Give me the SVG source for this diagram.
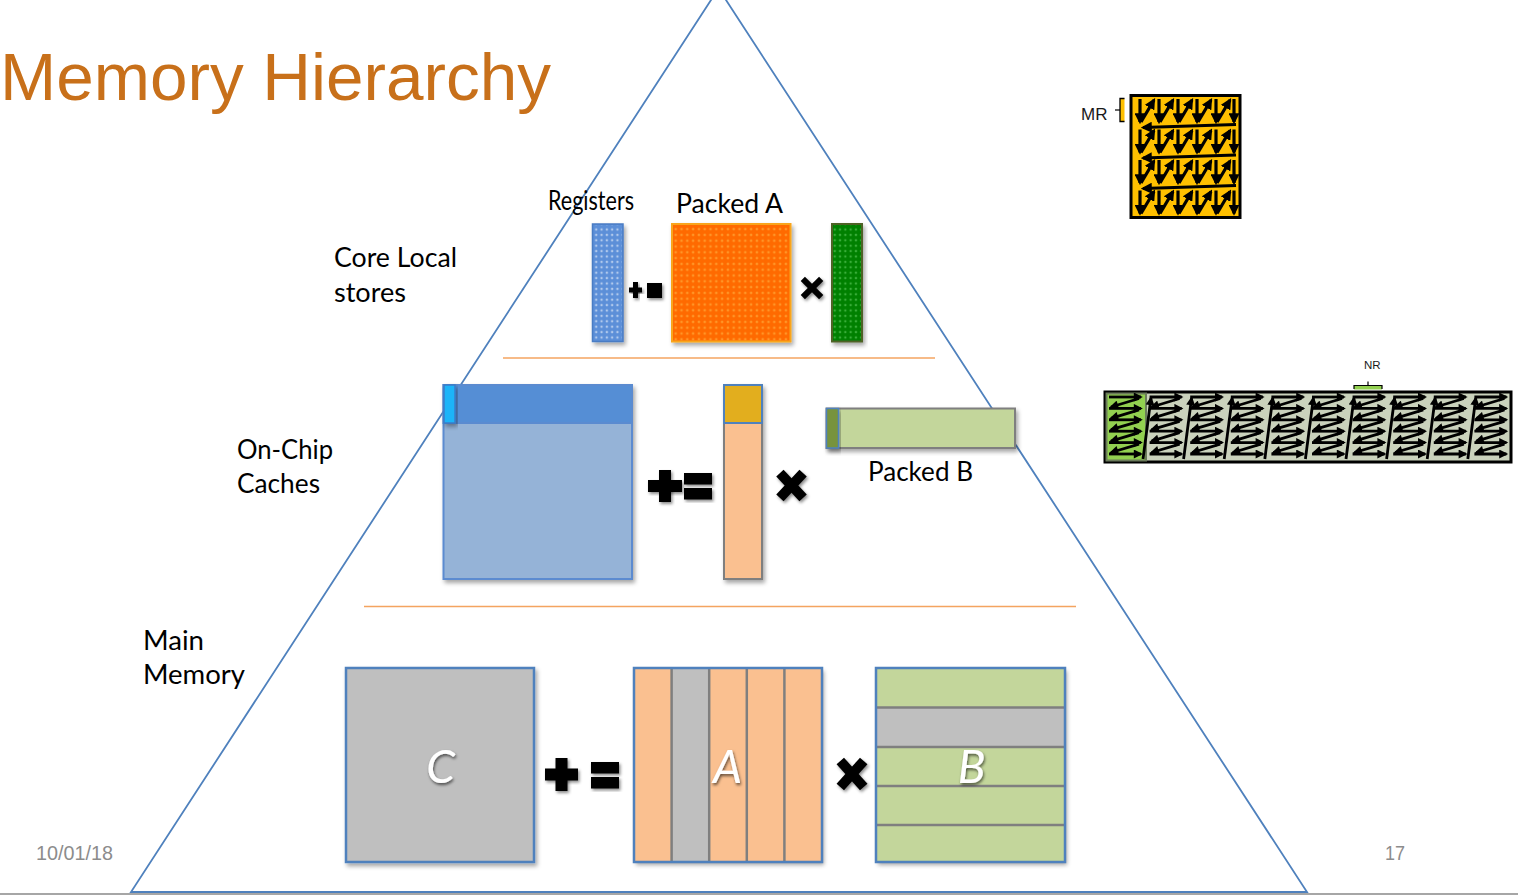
<svg xmlns="http://www.w3.org/2000/svg" xmlns:xlink="http://www.w3.org/1999/xlink" width="1518" height="895" viewBox="0 0 1518 895">
<style>
.lbl{font-family:Lato,"Open Sans","Noto Sans",sans-serif;font-size:26px;fill:#000}
.arial{font-family:"Liberation Sans",Arial,sans-serif}
.big{font-family:Lato,"Open Sans",sans-serif;font-style:italic;font-size:46px;fill:#fff;text-anchor:middle}
.sym{fill:#000;filter:url(#shs)}
.ar{stroke:#000;stroke-width:3.2;fill:none;marker-end:url(#ah)}
.arn{stroke:#000;stroke-width:2.8;fill:none;marker-end:url(#ahn)}
.bb{stroke:#4F81BD;stroke-width:2.5}
.gd{stroke:#7F7F7F;stroke-width:2.5}
</style>
<defs>
<filter id="sh" x="-10%" y="-10%" width="130%" height="130%"><feDropShadow dx="2" dy="3" stdDeviation="2" flood-color="#000" flood-opacity="0.35"/></filter>
<filter id="shs" x="-30%" y="-30%" width="160%" height="160%"><feDropShadow dx="1.5" dy="2" stdDeviation="1.5" flood-color="#000" flood-opacity="0.45"/></filter>
<filter id="sht" x="-30%" y="-30%" width="160%" height="160%"><feDropShadow dx="1" dy="2" stdDeviation="1.5" flood-color="#000" flood-opacity="0.6"/></filter>
<marker id="ah" viewBox="0 0 10 10" refX="8" refY="5" markerUnits="userSpaceOnUse" markerWidth="11" markerHeight="11" orient="auto"><path d="M0,0 L10,5 L0,10 z" fill="#000"/></marker>
<marker id="ahn" viewBox="0 0 10 10" refX="8" refY="5" markerUnits="userSpaceOnUse" markerWidth="10" markerHeight="9" orient="auto"><path d="M0,0 L10,5 L0,10 z" fill="#000"/></marker>
<pattern id="pW" width="5.3" height="5.4" patternUnits="userSpaceOnUse"><path d="M2.65,1.5 v2.4 M1.45,2.7 h2.4" stroke="#fff" stroke-width="0.8" opacity="0.75"/></pattern>
<pattern id="pO" width="5.8" height="5.8" patternUnits="userSpaceOnUse"><path d="M2.9,1.6 v2.6 M1.6,2.9 h2.6" stroke="#FFB040" stroke-width="0.9" opacity="0.85"/></pattern>
<pattern id="pG" width="5.3" height="5.4" patternUnits="userSpaceOnUse"><path d="M2.65,1.5 v2.4 M1.45,2.7 h2.4" stroke="#66D066" stroke-width="0.8" opacity="0.8"/></pattern>
<g id="mrRow">
<line class="ar" x1="1140" y1="99" x2="1140" y2="122"/>
<line class="ar" x1="1141" y1="122" x2="1154" y2="100"/>
<line class="ar" x1="1159" y1="99" x2="1159" y2="122"/>
<line class="ar" x1="1160" y1="122" x2="1173" y2="100"/>
<line class="ar" x1="1178" y1="99" x2="1178" y2="122"/>
<line class="ar" x1="1179" y1="122" x2="1192" y2="100"/>
<line class="ar" x1="1197" y1="99" x2="1197" y2="122"/>
<line class="ar" x1="1198" y1="122" x2="1211" y2="100"/>
<line class="ar" x1="1216" y1="99" x2="1216" y2="122"/>
<line class="ar" x1="1217" y1="122" x2="1230" y2="100"/>
<line class="ar" x1="1234" y1="99" x2="1234" y2="122"/>
</g>
<line id="mrRet" class="ar" x1="1236" y1="124.5" x2="1143" y2="127.5"/>
<g id="nrCol">
<line class="arn" x1="1109" y1="397" x2="1141" y2="397"/>
<line class="arn" x1="1139" y1="398.5" x2="1111" y2="407"/>
<line class="arn" x1="1109" y1="408.4" x2="1141" y2="408.4"/>
<line class="arn" x1="1139" y1="409.9" x2="1111" y2="418.3"/>
<line class="arn" x1="1109" y1="419.8" x2="1141" y2="419.8"/>
<line class="arn" x1="1139" y1="421.3" x2="1111" y2="429.7"/>
<line class="arn" x1="1109" y1="431.2" x2="1141" y2="431.2"/>
<line class="arn" x1="1139" y1="432.7" x2="1111" y2="441.1"/>
<line class="arn" x1="1109" y1="442.6" x2="1141" y2="442.6"/>
<line class="arn" x1="1139" y1="444.1" x2="1111" y2="452.5"/>
<line class="arn" x1="1109" y1="454" x2="1141" y2="454"/>
</g>
<line id="nrUp" class="arn" x1="1143" y1="459" x2="1151" y2="398"/>
</defs>

<rect x="0" y="0" width="1518" height="895" fill="#fff"/>

<g id="structure">
<polygon points="718.5,-11.5 131,892 1307,892" fill="none" stroke="#4F81BD" stroke-width="1.8"/>
<line x1="503" y1="358" x2="935" y2="358" stroke="#F4A460" stroke-width="1.5"/>
<line x1="364" y1="606.5" x2="1076" y2="606.5" stroke="#F4A460" stroke-width="1.5"/>
<rect x="0" y="893" width="1518" height="2" fill="#A6A6A6"/>
</g>

<g id="title"><text x="0" y="100" class="arial" font-size="67" fill="#C8701A" textLength="551" lengthAdjust="spacingAndGlyphs">Memory Hierarchy</text></g>

<g id="labels">
<text class="lbl" x="334" y="267" textLength="123" lengthAdjust="spacingAndGlyphs">Core Local</text>
<text class="lbl" x="334" y="302" textLength="72" lengthAdjust="spacingAndGlyphs">stores</text>
<text class="lbl" x="237" y="459" textLength="96" lengthAdjust="spacingAndGlyphs">On-Chip</text>
<text class="lbl" x="237" y="493" textLength="83" lengthAdjust="spacingAndGlyphs">Caches</text>
<text class="lbl" x="143" y="650" textLength="61" lengthAdjust="spacingAndGlyphs">Main</text>
<text class="lbl" x="143" y="684" textLength="102" lengthAdjust="spacingAndGlyphs">Memory</text>
<text class="arial" x="36" y="860" font-size="20" fill="#8C8C8C" textLength="77" lengthAdjust="spacingAndGlyphs">10/01/18</text>
<text class="arial" x="1385" y="860" font-size="20" fill="#8C8C8C" textLength="20" lengthAdjust="spacingAndGlyphs">17</text>
</g>

<g id="registers">
<text class="lbl" x="548" y="210" font-size="18" textLength="86" lengthAdjust="spacingAndGlyphs">Registers</text>
<rect x="592.5" y="224" width="30.5" height="117.5" fill="#5B8FD8" stroke="#4A7CC4" stroke-width="1.5" filter="url(#sh)"/>
<rect x="593.5" y="225" width="28.5" height="115.5" fill="url(#pW)"/>
</g>

<g id="packedA-reg">
<text class="lbl" x="676" y="213" font-size="27" textLength="107" lengthAdjust="spacingAndGlyphs">Packed A</text>
<rect x="672" y="224" width="118.5" height="117.5" fill="#FF6A00" stroke="#F9A51B" stroke-width="2" filter="url(#sh)"/>
<rect x="673" y="225" width="116.5" height="115.5" fill="url(#pO)"/>
</g>

<g id="b-reg">
<rect x="832" y="224" width="30" height="117.5" fill="#008000" stroke="#4F6228" stroke-width="2" filter="url(#sh)"/>
<rect x="833" y="225" width="28" height="115.5" fill="url(#pG)"/>
</g>

<g id="ops-top">
<rect class="sym" x="629" y="287.5" width="13" height="5"/>
<rect class="sym" x="633" y="282" width="5" height="16"/>
<rect class="sym" x="647" y="283" width="15" height="15"/>
<g class="sym"><rect x="799" y="285" width="26" height="6" transform="rotate(45 812 288)"/><rect x="799" y="285" width="26" height="6" transform="rotate(-45 812 288)"/></g>
</g>

<g id="cache-C">
<rect x="443.5" y="385" width="188.5" height="194" fill="#95B3D7" stroke="#5B8BD0" stroke-width="2" filter="url(#sh)"/>
<rect x="443.5" y="385" width="188.5" height="38" fill="#558ED5" stroke="#5B8BD0" stroke-width="2"/>
<rect x="444" y="385" width="11" height="38" fill="#1EB4F8" stroke="#3A7CC8" stroke-width="1.5" filter="url(#sh)"/>
</g>

<g id="ops-mid">
<rect class="sym" x="648" y="480" width="34" height="12"/>
<rect class="sym" x="659" y="470" width="12" height="32"/>
<rect class="sym" x="684" y="473" width="28" height="11.5"/>
<rect class="sym" x="684" y="488" width="28" height="11.5"/>
<g class="sym"><rect x="774.5" y="480.5" width="34" height="10" transform="rotate(47 791.5 485.5)"/><rect x="774.5" y="480.5" width="34" height="10" transform="rotate(-47 791.5 485.5)"/></g>
</g>

<g id="cache-A">
<rect x="724" y="385" width="38" height="194" fill="#FAC090" stroke="#7F7F7F" stroke-width="2" filter="url(#sh)"/>
<rect x="724" y="385" width="38" height="38" fill="#E2AE1E" stroke="#4F81BD" stroke-width="2"/>
</g>

<g id="packedB">
<rect x="826.5" y="408.5" width="188.5" height="39.5" fill="#C3D69B" stroke="#7F7F7F" stroke-width="2" filter="url(#sh)"/>
<rect x="826.5" y="408.5" width="12" height="39.5" fill="#77933C" stroke="#4F81BD" stroke-width="1.5" filter="url(#sh)"/>
<text class="lbl" x="868" y="481" textLength="105" lengthAdjust="spacingAndGlyphs">Packed B</text>
</g>

<g id="mem-C">
<rect x="346" y="668" width="188" height="194" fill="#BFBFBF" class="bb" filter="url(#sh)"/>
<text class="big" x="440.5" y="783" filter="url(#sht)">C</text>
</g>

<g id="ops-bot">
<rect class="sym" x="545" y="768.5" width="33" height="12"/>
<rect class="sym" x="555.5" y="758" width="12" height="33"/>
<rect class="sym" x="591" y="762" width="28" height="11.5"/>
<rect class="sym" x="591" y="777" width="28" height="11.5"/>
<g class="sym"><rect x="834.5" y="769" width="35" height="10" transform="rotate(48 852 774)"/><rect x="834.5" y="769" width="35" height="10" transform="rotate(-48 852 774)"/></g>
</g>

<g id="mem-A">
<rect x="634" y="668" width="188" height="194" fill="#FAC090" filter="url(#sh)"/>
<rect x="671.6" y="668" width="37.6" height="194" fill="#BFBFBF"/>
<line class="gd" x1="671.6" y1="668" x2="671.6" y2="862"/>
<line class="gd" x1="709.2" y1="668" x2="709.2" y2="862"/>
<line class="gd" x1="746.8" y1="668" x2="746.8" y2="862"/>
<line class="gd" x1="784.4" y1="668" x2="784.4" y2="862"/>
<rect x="634" y="668" width="188" height="194" fill="none" class="bb"/>
<text class="big" x="727.5" y="783" filter="url(#sht)">A</text>
</g>

<g id="mem-B">
<rect x="876" y="668" width="189" height="194" fill="#C3D69B" filter="url(#sh)"/>
<rect x="876" y="707.5" width="189" height="39.5" fill="#BFBFBF"/>
<line class="gd" x1="876" y1="707.5" x2="1065" y2="707.5"/>
<line class="gd" x1="876" y1="747" x2="1065" y2="747"/>
<line class="gd" x1="876" y1="786" x2="1065" y2="786"/>
<line class="gd" x1="876" y1="825" x2="1065" y2="825"/>
<rect x="876" y="668" width="189" height="194" fill="none" class="bb"/>
<text class="big" x="971.5" y="783" filter="url(#sht)">B</text>
</g>

<g id="mr-block">
<text class="arial" x="1081" y="120" font-size="17" fill="#1A1A1A">MR</text>
<line x1="1115" y1="110" x2="1120" y2="110" stroke="#000" stroke-width="1.2"/>
<rect x="1120" y="98.5" width="4.5" height="23" fill="#FFC000"/>
<path d="M1124.5,98.5 H1120 V121.5 H1124.5" fill="none" stroke="#000" stroke-width="1.3"/>
<rect x="1131" y="95.5" width="109" height="122" fill="#FFC000" stroke="#000" stroke-width="3"/>
<use xlink:href="#mrRow" href="#mrRow"/>
<use xlink:href="#mrRow" href="#mrRow" transform="translate(0,30.5)"/>
<use xlink:href="#mrRow" href="#mrRow" transform="translate(0,61)"/>
<use xlink:href="#mrRow" href="#mrRow" transform="translate(0,91.5)"/>
<use xlink:href="#mrRet" href="#mrRet"/>
<use xlink:href="#mrRet" href="#mrRet" transform="translate(0,30.5)"/>
<use xlink:href="#mrRet" href="#mrRet" transform="translate(0,61)"/>
</g>

<g id="nr-block">
<text class="arial" x="1364" y="369" font-size="11.5" fill="#1A1A1A">NR</text>
<rect x="1354" y="385.5" width="28" height="4" fill="#92D050"/>
<path d="M1354,389 V385.5 H1382 V389 M1368,385.5 V381.5" fill="none" stroke="#000" stroke-width="1.2"/>
<rect x="1105" y="392" width="406" height="70" fill="#CAD2BC" stroke="#000" stroke-width="3"/>
<rect x="1106.5" y="393.5" width="39.5" height="67" fill="#92D050" stroke="#6B7B5B" stroke-width="2"/>
<use xlink:href="#nrCol" href="#nrCol"/>
<use xlink:href="#nrCol" href="#nrCol" transform="translate(40.6,0)"/>
<use xlink:href="#nrCol" href="#nrCol" transform="translate(81.2,0)"/>
<use xlink:href="#nrCol" href="#nrCol" transform="translate(121.8,0)"/>
<use xlink:href="#nrCol" href="#nrCol" transform="translate(162.4,0)"/>
<use xlink:href="#nrCol" href="#nrCol" transform="translate(203,0)"/>
<use xlink:href="#nrCol" href="#nrCol" transform="translate(243.6,0)"/>
<use xlink:href="#nrCol" href="#nrCol" transform="translate(284.2,0)"/>
<use xlink:href="#nrCol" href="#nrCol" transform="translate(324.8,0)"/>
<use xlink:href="#nrCol" href="#nrCol" transform="translate(365.4,0)"/>
<use xlink:href="#nrUp" href="#nrUp"/>
<use xlink:href="#nrUp" href="#nrUp" transform="translate(40.6,0)"/>
<use xlink:href="#nrUp" href="#nrUp" transform="translate(81.2,0)"/>
<use xlink:href="#nrUp" href="#nrUp" transform="translate(121.8,0)"/>
<use xlink:href="#nrUp" href="#nrUp" transform="translate(162.4,0)"/>
<use xlink:href="#nrUp" href="#nrUp" transform="translate(203,0)"/>
<use xlink:href="#nrUp" href="#nrUp" transform="translate(243.6,0)"/>
<use xlink:href="#nrUp" href="#nrUp" transform="translate(284.2,0)"/>
<use xlink:href="#nrUp" href="#nrUp" transform="translate(324.8,0)"/>
</g>
</svg>
